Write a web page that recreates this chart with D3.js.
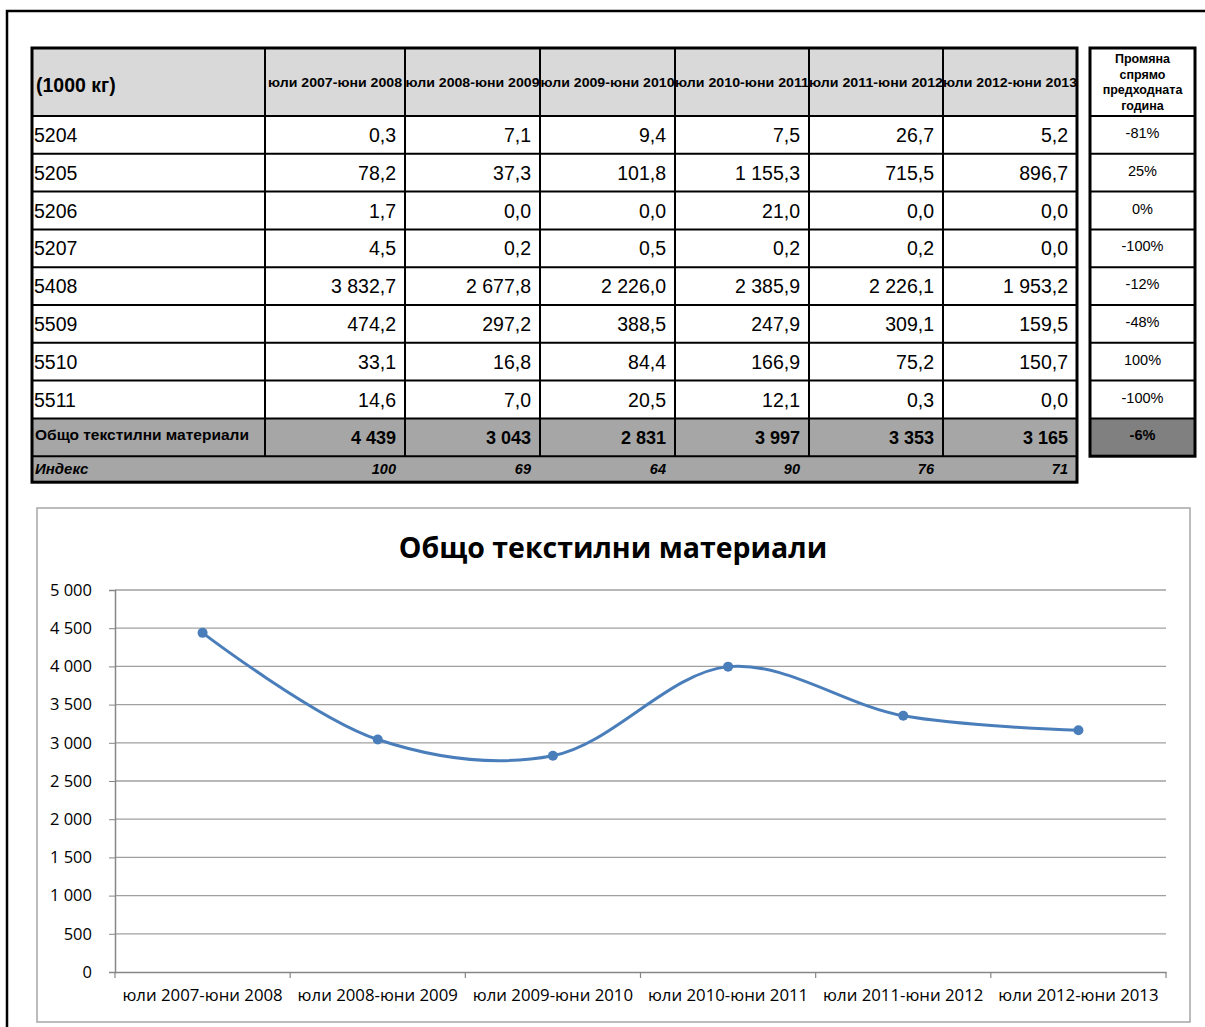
<!DOCTYPE html>
<html>
<head>
<meta charset="utf-8">
<script src="https://cdn.jsdelivr.net/npm/d3@7/dist/d3.min.js"></script>
<style>
  html, body { margin: 0; padding: 0; background: #fff; }
  svg { display: block; }
  .tbl { font-family: "Liberation Sans", Arial, sans-serif; }
  .chart { font-family: "Open Sans", "Noto Sans", sans-serif; }
</style>
</head>
<body>
<svg id="root" width="1205" height="1027"></svg>
<script>
// ---------------- DATA ----------------
const categories = ["юли 2007-юни 2008", "юли 2008-юни 2009", "юли 2009-юни 2010",
                    "юли 2010-юни 2011", "юли 2011-юни 2012", "юли 2012-юни 2013"];
const unitLabel = "(1000 кг)";
const codes = ["5204", "5205", "5206", "5207", "5408", "5509", "5510", "5511"];
const v5204 = [0.3, 7.1, 9.4, 7.5, 26.7, 5.2];
const v5205 = [78.2, 37.3, 101.8, 1155.3, 715.5, 896.7];
const v5206 = [1.7, 0.0, 0.0, 21.0, 0.0, 0.0];
const v5207 = [4.5, 0.2, 0.5, 0.2, 0.2, 0.0];
const v5408 = [3832.7, 2677.8, 2226.0, 2385.9, 2226.1, 1953.2];
const v5509 = [474.2, 297.2, 388.5, 247.9, 309.1, 159.5];
const v5510 = [33.1, 16.8, 84.4, 166.9, 75.2, 150.7];
const v5511 = [14.6, 7.0, 20.5, 12.1, 0.3, 0.0];
const changes = ["-81%", "25%", "0%", "-100%", "-12%", "-48%", "100%", "-100%"];
const totalLabel = "Общо текстилни материали";
const totals = [4439, 3043, 2831, 3997, 3353, 3165];
const totalChange = "-6%";
const indexLabel = "Индекс";
const indexValues = [100, 69, 64, 90, 76, 71];
const changeHeader = ["Промяна", "спрямо", "предходната", "година"];
const chartTitle = "Общо текстилни материали";
const yTicks = [0, 500, 1000, 1500, 2000, 2500, 3000, 3500, 4000, 4500, 5000];

const rowsData = [v5204, v5205, v5206, v5207, v5408, v5509, v5510, v5511];

// ---------------- FORMAT ----------------
const loc = d3.formatLocale({decimal: ",", thousands: " ", grouping: [3], currency: ["", ""]});
const f1 = loc.format(",.1f");
const f0 = loc.format(",.0f");

const svg = d3.select("#root");

// page border
svg.append("path").attr("d", "M7,1027 V11 H1205").attr("fill", "none")
   .attr("stroke", "#000").attr("stroke-width", 2.5);

// ---------------- TABLE ----------------
const colEdges = [32, 265, 405, 540, 675, 809, 943, 1077];
const headerTop = 48, headerBot = 116, rowH = 37.8;
const nRows = rowsData.length;
const rowY = i => headerBot + i * rowH;
const totalTop = rowY(nRows), totalBot = totalTop + rowH;
const indexBot = totalBot + 26;

const tbl = svg.append("g").attr("class", "tbl");

// backgrounds
tbl.append("rect").attr("x", colEdges[0]).attr("y", headerTop)
   .attr("width", colEdges[7] - colEdges[0]).attr("height", headerBot - headerTop).attr("fill", "#d9d9d9");
tbl.append("rect").attr("x", colEdges[0]).attr("y", totalTop)
   .attr("width", colEdges[7] - colEdges[0]).attr("height", indexBot - totalTop).attr("fill", "#a6a6a6");

// grid lines
const gl = tbl.append("g").attr("stroke", "#000").attr("stroke-width", 2);
[headerBot, ...d3.range(1, nRows + 1).map(rowY), totalBot].forEach(y =>
  gl.append("line").attr("x1", colEdges[0]).attr("x2", colEdges[7]).attr("y1", y).attr("y2", y));
colEdges.slice(1, 7).forEach(x =>
  gl.append("line").attr("x1", x).attr("x2", x).attr("y1", headerTop).attr("y2", totalBot));
tbl.append("rect").attr("x", colEdges[0]).attr("y", headerTop)
   .attr("width", colEdges[7] - colEdges[0]).attr("height", indexBot - headerTop)
   .attr("fill", "none").attr("stroke", "#000").attr("stroke-width", 3);

// header text
tbl.append("text").attr("x", colEdges[0] + 4).attr("y", 92)
   .attr("font-size", 19.5).attr("font-weight", "bold").text(unitLabel);
categories.forEach((c, j) => {
  tbl.append("text").attr("x", (colEdges[j + 1] + colEdges[j + 2]) / 2).attr("y", 87)
     .attr("text-anchor", "middle").attr("font-size", 12).attr("font-weight", "bold")
     .attr("textLength", 134).attr("lengthAdjust", "spacingAndGlyphs").text(c);
});

// data rows
rowsData.forEach((vals, i) => {
  const yb = rowY(i) + 26;
  tbl.append("text").attr("x", colEdges[0] + 2).attr("y", yb).attr("font-size", 19.5).text(codes[i]);
  vals.forEach((v, j) => {
    tbl.append("text").attr("x", colEdges[j + 2] - 9).attr("y", yb).attr("text-anchor", "end")
       .attr("font-size", 19.5).text(f1(v));
  });
});

// totals
tbl.append("text").attr("x", colEdges[0] + 3).attr("y", totalTop + 22)
   .attr("font-size", 15.5).attr("font-weight", "bold").text(totalLabel);
totals.forEach((v, j) => {
  tbl.append("text").attr("x", colEdges[j + 2] - 9).attr("y", totalTop + 26).attr("text-anchor", "end")
     .attr("font-size", 18).attr("font-weight", "bold").text(f0(v));
});
// index
tbl.append("text").attr("x", colEdges[0] + 3).attr("y", totalBot + 18)
   .attr("font-size", 15).attr("font-weight", "bold").attr("font-style", "italic").text(indexLabel);
indexValues.forEach((v, j) => {
  tbl.append("text").attr("x", colEdges[j + 2] - 9).attr("y", totalBot + 18).attr("text-anchor", "end")
     .attr("font-size", 14.5).attr("font-weight", "bold").attr("font-style", "italic").text(v);
});

// change table
const cx0 = 1090, cx1 = 1195;
const ct = svg.append("g").attr("class", "tbl");
ct.append("rect").attr("x", cx0).attr("y", totalTop).attr("width", cx1 - cx0).attr("height", rowH).attr("fill", "#808080");
const cgl = ct.append("g").attr("stroke", "#000").attr("stroke-width", 2);
[headerBot, ...d3.range(1, nRows + 1).map(rowY)].forEach(y =>
  cgl.append("line").attr("x1", cx0).attr("x2", cx1).attr("y1", y).attr("y2", y));
ct.append("rect").attr("x", cx0).attr("y", headerTop).attr("width", cx1 - cx0).attr("height", totalBot - headerTop)
  .attr("fill", "none").attr("stroke", "#000").attr("stroke-width", 3);
changeHeader.forEach((t, k) => {
  ct.append("text").attr("x", (cx0 + cx1) / 2).attr("y", 63 + k * 15.5).attr("text-anchor", "middle")
    .attr("font-size", 12.5).attr("font-weight", "bold").text(t);
});
changes.forEach((t, i) => {
  ct.append("text").attr("x", (cx0 + cx1) / 2).attr("y", rowY(i) + 22).attr("text-anchor", "middle")
    .attr("font-size", 14.5).text(t);
});
ct.append("text").attr("x", (cx0 + cx1) / 2).attr("y", totalTop + 22).attr("text-anchor", "middle")
  .attr("font-size", 14.5).attr("font-weight", "bold").text(totalChange);

// ---------------- CHART ----------------
const chart = svg.append("g").attr("class", "chart");
chart.append("rect").attr("x", 37).attr("y", 508).attr("width", 1153).attr("height", 514)
     .attr("fill", "#fff").attr("stroke", "#a6a6a6").attr("stroke-width", 1.5);

chart.append("text").attr("x", 613).attr("y", 558).attr("text-anchor", "middle")
     .attr("font-size", 28.5).attr("font-weight", "bold").text(chartTitle);

const plotL = 115, plotR = 1166, plotT = 590, plotB = 972;
const x = d3.scaleBand().domain(categories).range([plotL, plotR]);
const y = d3.scaleLinear().domain([0, 5000]).range([plotB, plotT]);

// gridlines
chart.append("g").selectAll("line").data(yTicks.filter(d => d > 0)).join("line")
  .attr("x1", plotL).attr("x2", plotR).attr("y1", d => y(d)).attr("y2", d => y(d))
  .attr("stroke", "#a0a0a0").attr("stroke-width", 1.3);

// y axis
const yAxis = chart.append("g").attr("transform", `translate(${plotL},0)`)
  .call(d3.axisLeft(y).tickValues(yTicks).tickSize(6).tickPadding(17).tickFormat(f0));
yAxis.select(".domain").attr("stroke", "#868686").attr("stroke-width", 1.5);
yAxis.selectAll(".tick line").attr("stroke", "#868686");
yAxis.selectAll("text").attr("font-size", 16.5).attr("fill", "#000").attr("font-family", "\"Open Sans\", sans-serif");

// x axis
const xAxis = chart.append("g").attr("transform", `translate(0,${plotB})`)
  .call(d3.axisBottom(x).tickSize(0).tickPadding(17));
xAxis.select(".domain").attr("stroke", "#868686").attr("stroke-width", 1.5);
xAxis.selectAll("text").attr("font-size", 16.8).attr("fill", "#000").attr("font-family", "\"Open Sans\", sans-serif");
// x tick marks at category boundaries
const bounds = categories.map(c => x(c)).concat([plotR]);
chart.append("g").selectAll("line").data(bounds).join("line")
  .attr("x1", d => d).attr("x2", d => d).attr("y1", plotB).attr("y2", plotB + 6)
  .attr("stroke", "#868686").attr("stroke-width", 1.2);

// line
const pts = categories.map((c, i) => [x(c) + x.bandwidth() / 2, y(totals[i])]);
chart.append("path").datum(pts)
  .attr("d", d3.line().curve(d3.curveCatmullRom.alpha(0.5)))
  .attr("fill", "none").attr("stroke", "#4a7ebb").attr("stroke-width", 3);
chart.append("g").selectAll("circle").data(pts).join("circle")
  .attr("cx", d => d[0]).attr("cy", d => d[1]).attr("r", 5).attr("fill", "#4a7ebb");
</script>
</body>
</html>
